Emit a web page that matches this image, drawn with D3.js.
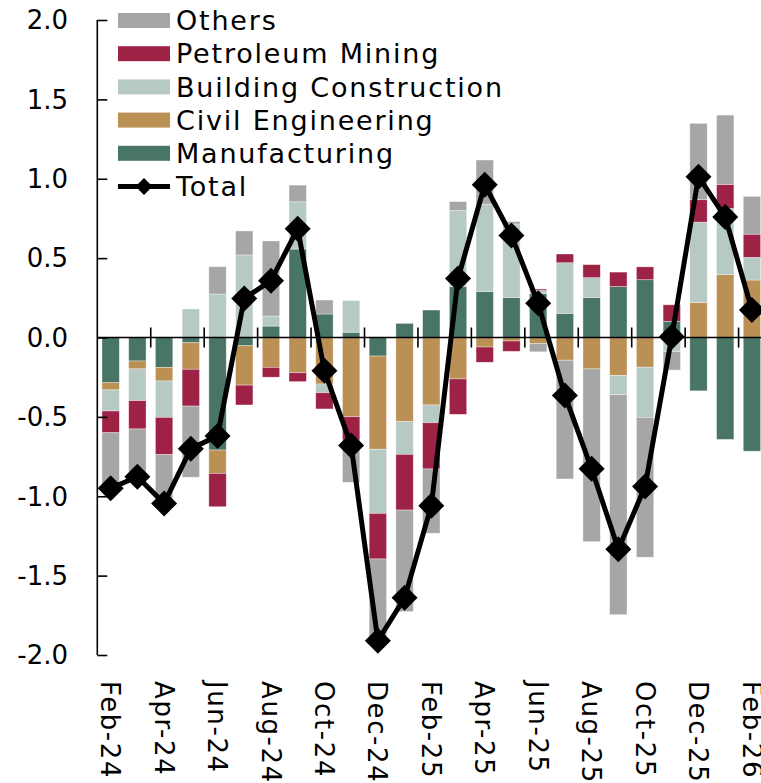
<!DOCTYPE html>
<html>
<head>
<meta charset="utf-8">
<script src="https://cdn.jsdelivr.net/npm/d3@7"></script>
<style>
  body { margin: 0; background: #fff; }
  text { font-family: "Century Gothic", "DejaVu Sans", sans-serif; fill: #000; }
</style>
</head>
<body>
<div id="chart"></div>
<script>
// months on the x axis
var months = ["Feb-24","Mar-24","Apr-24","May-24","Jun-24","Jul-24","Aug-24","Sep-24","Oct-24","Nov-24","Dec-24","Jan-25",
              "Feb-25","Mar-25","Apr-25","May-25","Jun-25","Jul-25","Aug-25","Sep-25","Oct-25","Nov-25","Dec-25","Jan-26","Feb-26"];

// contributions by sector (percentage points)
var manufacturing = [-0.285,-0.148,-0.188,-0.033,-0.709,-0.052,0.072,0.557,0.148,0.033,-0.117,0.089,
                     0.173,0.320,0.290,0.251,0.278,0.152,0.251,0.321,0.364,0.102,-0.336,-0.642,-0.716];
var civil         = [-0.045,-0.050,-0.086,-0.167,-0.147,-0.248,-0.188,-0.222,-0.293,-0.499,-0.587,-0.530,
                     -0.425,-0.261,-0.060,-0.022,-0.037,-0.143,-0.198,-0.239,-0.187,0.000,0.221,0.397,0.362];
var building      = [-0.133,-0.200,-0.229,0.180,0.274,0.520,0.063,0.298,-0.055,0.199,-0.404,-0.206,
                     -0.112,0.480,0.550,0.464,0.018,0.319,0.126,-0.121,-0.316,-0.089,0.506,0.416,0.143];
var petroleum     = [-0.137,-0.178,-0.235,-0.232,-0.210,-0.125,-0.062,-0.056,-0.102,-0.147,-0.287,-0.351,
                     -0.291,-0.223,-0.096,-0.065,0.009,0.055,0.082,0.091,0.081,0.104,0.141,0.152,0.146];
var others        = [-0.350,-0.300,-0.290,-0.448,0.172,0.151,0.473,0.105,0.088,-0.266,-0.520,-0.640,
                     -0.405,0.056,0.278,0.015,-0.053,-0.748,-1.088,-1.386,-0.881,-0.116,0.481,0.436,0.238];
var total         = [-0.950,-0.877,-1.045,-0.700,-0.620,0.246,0.358,0.685,-0.210,-0.680,-1.910,-1.640,
                     -1.060,0.372,0.962,0.643,0.215,-0.365,-0.827,-1.334,-0.939,0.005,1.013,0.759,0.173];

var yTicks = [-2.0,-1.5,-1.0,-0.5,0.0,0.5,1.0,1.5,2.0];

// stacking order: nearest the zero line first
var keys = ["Manufacturing","Civil Engineering","Building Construction","Petroleum Mining","Others"];
var colors = {
  "Manufacturing": "#497565",
  "Civil Engineering": "#BB9055",
  "Building Construction": "#B6C9C2",
  "Petroleum Mining": "#9E2146",
  "Others": "#A6A6A6"
};

var table = months.map(function(m, i) {
  return {
    month: m,
    "Manufacturing": manufacturing[i],
    "Civil Engineering": civil[i],
    "Building Construction": building[i],
    "Petroleum Mining": petroleum[i],
    "Others": others[i],
    total: total[i]
  };
});

var W = 761, H = 783;
var plotLeft = 97.3, plotRight = 765.3, plotTop = 20, plotBottom = 655;

var svg = d3.select("#chart")
  .append("svg")
    .attr("width", W)
    .attr("height", H);

var x = d3.scaleBand()
    .domain(months)
    .range([plotLeft, plotRight])
    .paddingInner(0.35)
    .paddingOuter(0.175);

var y = d3.scaleLinear()
    .domain([-2, 2])
    .range([plotBottom, plotTop]);

var series = d3.stack()
    .keys(keys)
    .offset(d3.stackOffsetDiverging)(table);

// bars
svg.append("g")
  .selectAll("g")
  .data(series)
  .enter()
  .append("g")
    .attr("fill", function(d) { return colors[d.key]; })
  .selectAll("rect")
  .data(function(d) { return d; })
  .enter()
  .append("rect")
    .attr("x", function(d) { return x(d.data.month); })
    .attr("width", x.bandwidth())
    .attr("y", function(d) { return y(d[1]); })
    .attr("height", function(d) { return Math.abs(y(d[0]) - y(d[1])); })
    .attr("stroke", "#fff")
    .attr("stroke-opacity", 0.5)
    .attr("stroke-width", 0.7);

// zero line with crossing ticks every two months
var step = x.step();
svg.append("line")
    .attr("x1", plotLeft).attr("x2", W)
    .attr("y1", y(0)).attr("y2", y(0))
    .attr("stroke", "#000").attr("stroke-width", 1.6);

var xTickPos = d3.range(2, months.length, 2).map(function(i) { return plotLeft + i * step; });
svg.append("g")
  .selectAll("line")
  .data(xTickPos)
  .enter()
  .append("line")
    .attr("x1", function(d) { return d; })
    .attr("x2", function(d) { return d; })
    .attr("y1", y(0) - 10)
    .attr("y2", y(0) + 10)
    .attr("stroke", "#000")
    .attr("stroke-width", 1.6);

// y axis
var yAxis = svg.append("g")
    .attr("transform", "translate(" + plotLeft + ",0)")
    .call(d3.axisRight(y).tickValues(yTicks).tickSize(10).tickFormat(""));
yAxis.select(".domain").attr("stroke", "#000").attr("stroke-width", 1.6).attr("d", "M0," + plotTop + "V" + plotBottom);
yAxis.selectAll(".tick line").attr("stroke", "#000").attr("stroke-width", 1.6);

// tick labels with a plain hyphen for negatives
var fmt = function(d) { return d.toFixed(1); };
svg.append("g")
  .selectAll("text")
  .data(yTicks)
  .enter()
  .append("text")
    .attr("x", 68)
    .attr("y", function(d) { return y(d); })
    .attr("dy", "0.36em")
    .attr("text-anchor", "end")
    .attr("font-size", "26px")
    .text(fmt);

// x labels, rotated, every second month
svg.append("g")
  .selectAll("text")
  .data(months.filter(function(m, i) { return i % 2 === 0; }))
  .enter()
  .append("text")
    .attr("transform", function(d) { return "translate(" + (x(d) + x.bandwidth() / 2) + ",681) rotate(90)"; })
    .attr("dy", "0.36em")
    .attr("font-size", "26px")
    .attr("letter-spacing", "1.6px")
    .text(function(d) { return d; });

// total line and diamonds
var diamond = {
  draw: function(context, size) {
    var r = Math.sqrt(size) / 2;
    context.moveTo(0, -r);
    context.lineTo(r, 0);
    context.lineTo(0, r);
    context.lineTo(-r, 0);
    context.closePath();
  }
};

var cx = function(d) { return x(d.month) + x.bandwidth() / 2; };

svg.append("path")
    .datum(table)
    .attr("fill", "none")
    .attr("stroke", "#000")
    .attr("stroke-width", 5)
    .attr("stroke-linejoin", "round")
    .attr("d", d3.line().x(cx).y(function(d) { return y(d.total); }));

svg.append("g")
  .selectAll("path")
  .data(table)
  .enter()
  .append("path")
    .attr("transform", function(d) { return "translate(" + cx(d) + "," + y(d.total) + ")"; })
    .attr("d", d3.symbol().type(diamond).size(26 * 26))
    .attr("fill", "#000");

// legend
var legendKeys = ["Others","Petroleum Mining","Building Construction","Civil Engineering","Manufacturing"];
var legend = svg.append("g");
legendKeys.forEach(function(k, i) {
  var ly = 20.5 + i * 33.2;
  legend.append("rect")
      .attr("x", 118).attr("y", ly - 7.5)
      .attr("width", 52).attr("height", 15)
      .attr("fill", colors[k]);
  legend.append("text")
      .attr("x", 176).attr("y", ly)
      .attr("dy", "0.36em")
      .attr("font-size", "27px")
      .attr("letter-spacing", "1.8px")
      .text(k);
});
var ty = 20.5 + 5 * 33.2;
legend.append("line")
    .attr("x1", 118).attr("x2", 170)
    .attr("y1", ty).attr("y2", ty)
    .attr("stroke", "#000").attr("stroke-width", 5);
legend.append("path")
    .attr("transform", "translate(144," + ty + ")")
    .attr("d", d3.symbol().type(diamond).size(17 * 17))
    .attr("fill", "#000");
legend.append("text")
    .attr("x", 176).attr("y", ty)
    .attr("dy", "0.36em")
    .attr("font-size", "27px")
    .attr("letter-spacing", "1.8px")
    .text("Total");
</script>
</body>
</html>
